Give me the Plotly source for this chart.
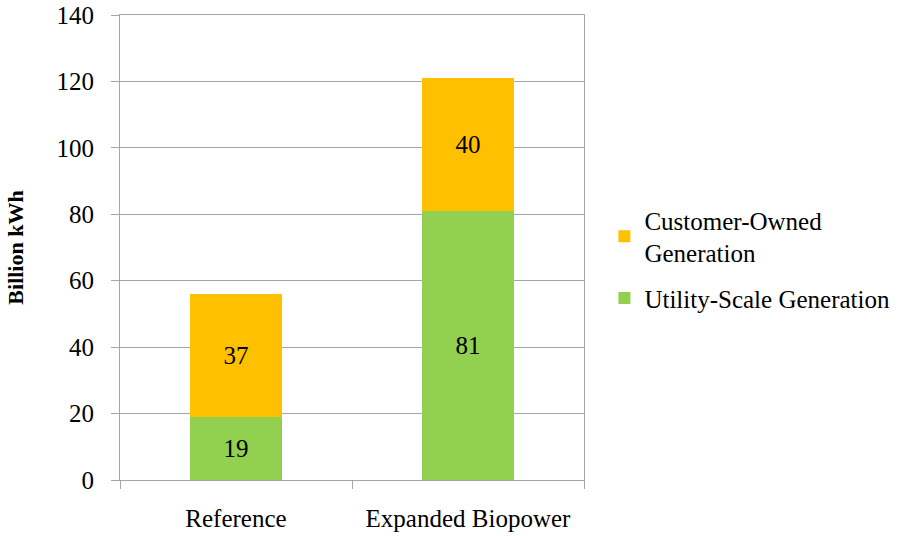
import plotly.graph_objects as go

categories = ["Reference", "Expanded Biopower"]
utility = [19, 81]
customer = [37, 40]
series_names = ["Utility-Scale Generation", "Customer-Owned<br>Generation"]
y_ticks = [0, 20, 40, 60, 80, 100, 120, 140]

FONT = "serif"
FS = 25
GRID = "#A6A6A6"

fig = go.Figure()
fig.add_trace(go.Bar(x=categories, y=utility, name=series_names[0], legendgroup="u", legendrank=2,
                     marker=dict(color="#92D050", line=dict(width=0)),
                     text=utility, textposition="inside", insidetextanchor="middle",
                     textfont=dict(family=FONT, size=FS, color="black")))
fig.add_trace(go.Bar(x=categories, y=customer, name=series_names[1], legendgroup="c", legendrank=1,
                     marker=dict(color="#FFC000", line=dict(width=0)),
                     text=customer, textposition="inside", insidetextanchor="middle",
                     textfont=dict(family=FONT, size=FS, color="black")))

fig.update_layout(
    width=910, height=536,
    barmode="stack", bargap=0.6,
    paper_bgcolor="white", plot_bgcolor="white",
    margin=dict(l=120, r=326, t=15, b=56),
    font=dict(family=FONT, size=FS, color="black"),
    uniformtext=dict(mode=False),
    legend=dict(x=1.044, xanchor="left", y=0.608, yanchor="top",
                traceorder="grouped", font=dict(family=FONT, size=FS, color="black"),
                itemwidth=30, tracegroupgap=10, bgcolor="rgba(0,0,0,0)"),
    showlegend=True,
)
fig.update_yaxes(range=[0, 140], tickvals=y_ticks, showgrid=True, gridcolor=GRID, gridwidth=1,
                 showline=True, linecolor=GRID, linewidth=1, mirror=True,
                 ticks="outside", ticklen=8, tickcolor=GRID, ticklabelstandoff=12,
                 ticklabeloverflow="allow",
                 zeroline=False, automargin=False,
                 tickfont=dict(family=FONT, size=FS, color="black"),
                 title=dict(text="<b>Billion kWh</b>", font=dict(family=FONT, size=22, color="black"),
                            standoff=26))
fig.update_xaxes(showline=True, linecolor=GRID, linewidth=1, mirror=True,
                 ticks="outside", ticklen=8, tickcolor=GRID, tickson="boundaries",
                 ticklabelstandoff=16, automargin=False, ticklabeloverflow="allow",
                 tickfont=dict(family=FONT, size=FS, color="black"))

fig.write_html("out.html", config={"displayModeBar": False},
               post_script="document.body.style.margin='0';")
